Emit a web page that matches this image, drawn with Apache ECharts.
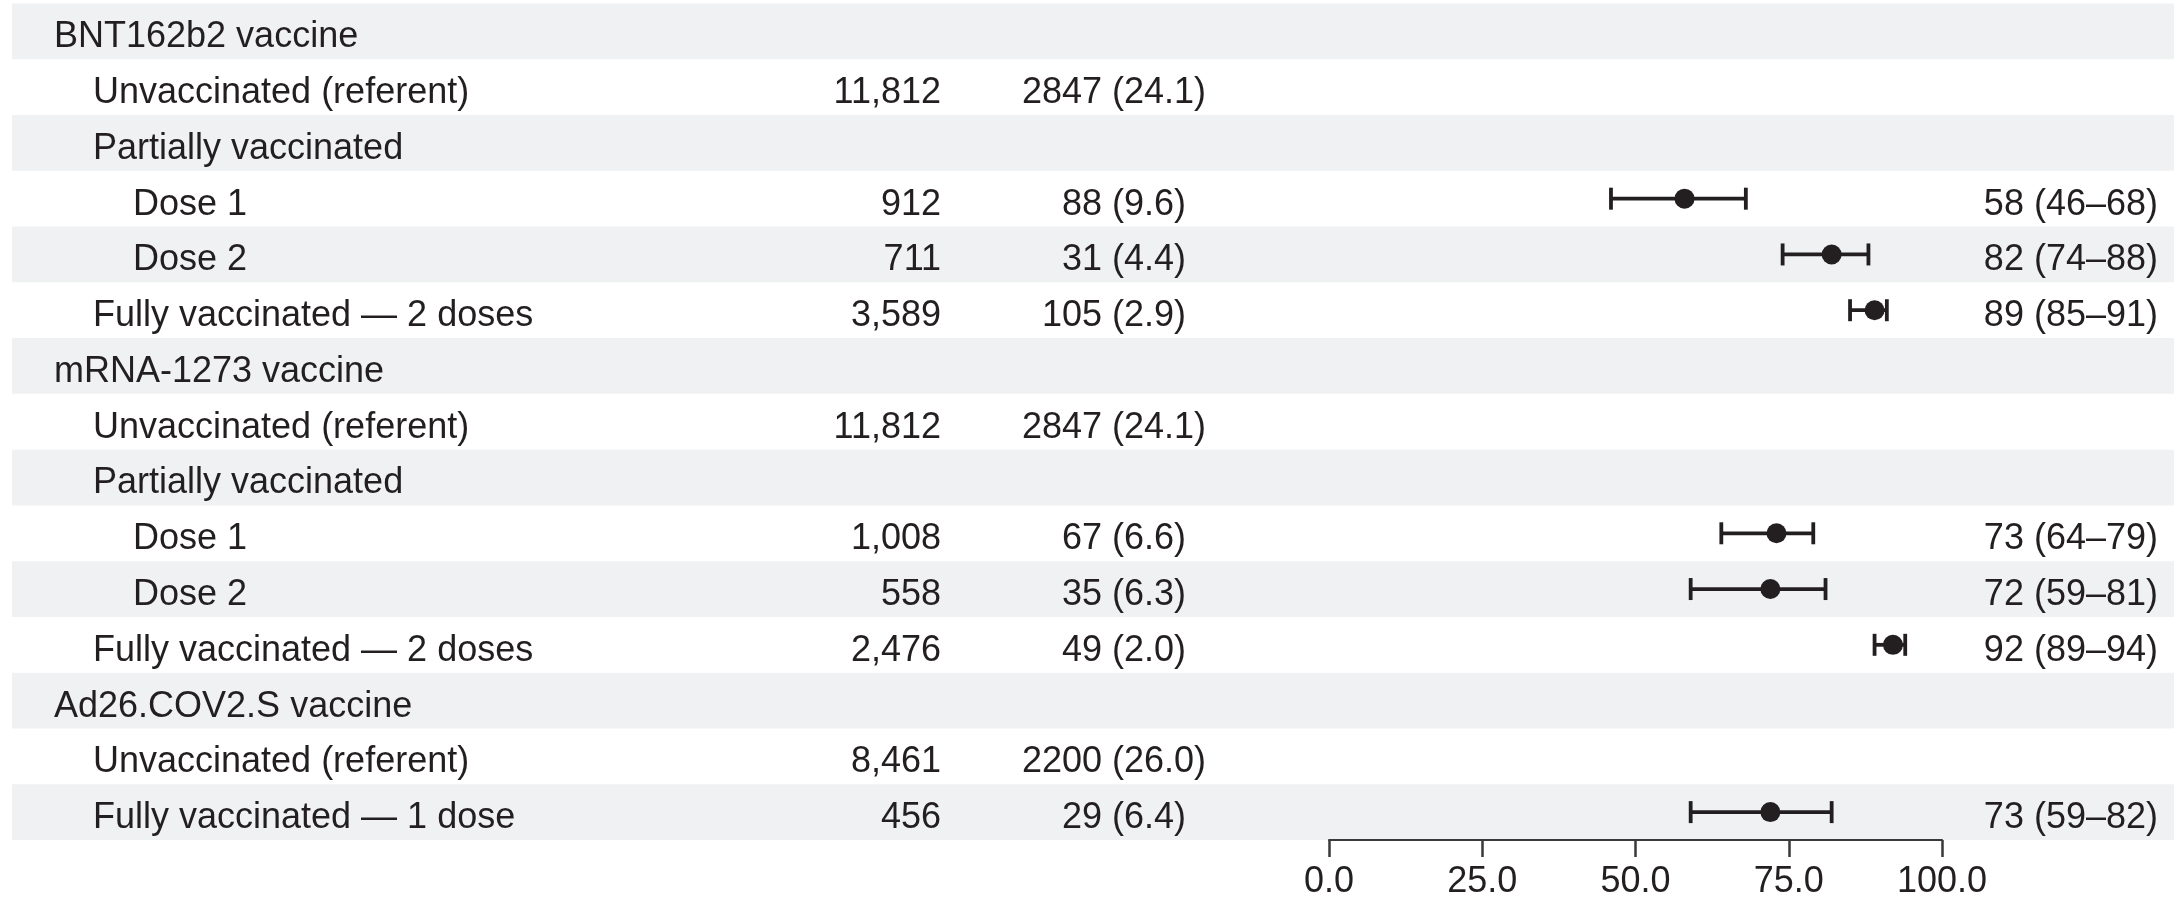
<!DOCTYPE html>
<html><head><meta charset="utf-8">
<script src="https://cdn.jsdelivr.net/npm/echarts@6/dist/echarts.min.js"></script>
<style>html,body{margin:0;padding:0;background:#fff;} #chart{width:2174px;height:900px;}</style>
</head><body><div id="chart"></div>
<script>
const rowLabels = ['BNT162b2 vaccine','Unvaccinated (referent)','Partially vaccinated','Dose 1','Dose 2','Fully vaccinated \u2014 2 doses','mRNA-1273 vaccine','Unvaccinated (referent)','Partially vaccinated','Dose 1','Dose 2','Fully vaccinated \u2014 2 doses','Ad26.COV2.S vaccine','Unvaccinated (referent)','Fully vaccinated \u2014 1 dose'];
const rowLevels = [0,1,1,2,2,1,0,1,1,2,2,1,0,1,1];
const participants = ['','11,812','','912','711','3,589','','11,812','','1,008','558','2,476','','8,461','456'];
const caseCounts = ['','2847','','88','31','105','','2847','','67','35','49','','2200','29'];
const casePercents = ['','(24.1)','','(9.6)','(4.4)','(2.9)','','(24.1)','','(6.6)','(6.3)','(2.0)','','(26.0)','(6.4)'];
const effRows = [3,4,5,9,10,11,14];
const effEstimate = [58,82,89,73,72,92,72];
const effLower = [46,74,85,64,59,89,59];
const effUpper = [68,88,91,79,81,94,82];
const effLabels = ['58 (46\u201368)','82 (74\u201388)','89 (85\u201391)','73 (64\u201379)','72 (59\u201381)','92 (89\u201394)','73 (59\u201382)'];
const xTicks = [0,25,50,75,100];

const FONT = '"Liberation Sans", Arial, sans-serif';
const INK = '#231f20';
const BAND = '#eff1f3';
const indents = [54, 93, 133];
const TEXT_DY = 6;

function txt(x, y, s, align) {
  return {
    type: 'text', x: x, y: y + TEXT_DY,
    style: { text: s, font: '36px ' + FONT, fill: INK, align: align, verticalAlign: 'middle', textAlign: align, textVerticalAlign: 'middle' }
  };
}

const chart = echarts.init(document.getElementById('chart'), null, { renderer: 'canvas' });
chart.setOption({
  animation: false,
  backgroundColor: '#ffffff',
  grid: { left: 1329, right: 232, top: 3.5, bottom: 60 },
  xAxis: {
    type: 'value', min: xTicks[0], max: xTicks[xTicks.length - 1], interval: 25,
    axisLine: { show: true, lineStyle: { color: '#3a3a3a', width: 2 } },
    axisTick: { show: true, length: 17, lineStyle: { color: '#3a3a3a', width: 2.5 } },
    axisLabel: { formatter: v => v.toFixed(1), fontSize: 36, fontFamily: FONT, color: INK, margin: 24 },
    splitLine: { show: false }
  },
  yAxis: {
    type: 'category', inverse: true, data: rowLabels.map((_, i) => String(i)), show: false
  },
  series: [
    {
      type: 'custom', clip: false, z: 0, silent: true,
      data: rowLabels.map((_, i) => [0, i]),
      renderItem: function (params, api) {
        const i = api.value(1);
        if (i % 2 !== 0) return null;
        const y = api.coord([0, i])[1];
        const h = api.size([0, 1])[1];
        return { type: 'rect', shape: { x: 12, y: y - h / 2, width: 2174 - 12, height: h }, style: { fill: BAND } };
      }
    },
    {
      type: 'custom', clip: false, z: 2, silent: true,
      data: rowLabels.map((_, i) => [0, i]),
      renderItem: function (params, api) {
        const i = api.value(1);
        const y = api.coord([0, i])[1];
        const children = [txt(indents[rowLevels[i]], y, rowLabels[i], 'left')];
        if (participants[i]) children.push(txt(941, y, participants[i], 'right'));
        if (caseCounts[i]) children.push(txt(1102, y, caseCounts[i], 'right'));
        if (casePercents[i]) children.push(txt(1112, y, casePercents[i], 'left'));
        const k = effRows.indexOf(i);
        if (k >= 0) children.push(txt(2158, y, effLabels[k], 'right'));
        return { type: 'group', children: children };
      }
    },
    {
      type: 'custom', clip: false, z: 3, silent: true,
      encode: { x: [0, 1], y: 2 },
      data: effRows.map((r, k) => [effLower[k], effUpper[k], r]),
      renderItem: function (params, api) {
        const p1 = api.coord([api.value(0), api.value(2)]);
        const p2 = api.coord([api.value(1), api.value(2)]);
        const c = 11;
        const st = { stroke: INK, lineWidth: 3.8 };
        return {
          type: 'group', children: [
            { type: 'line', shape: { x1: p1[0], y1: p1[1], x2: p2[0], y2: p2[1] }, style: st },
            { type: 'line', shape: { x1: p1[0], y1: p1[1] - c, x2: p1[0], y2: p1[1] + c }, style: st },
            { type: 'line', shape: { x1: p2[0], y1: p2[1] - c, x2: p2[0], y2: p2[1] + c }, style: st }
          ]
        };
      }
    },
    {
      type: 'scatter', z: 4, silent: true,
      symbol: 'circle', symbolSize: 20,
      itemStyle: { color: INK, opacity: 1 },
      data: effRows.map((r, k) => [effEstimate[k], r])
    }
  ]
});
</script>
</body></html>
